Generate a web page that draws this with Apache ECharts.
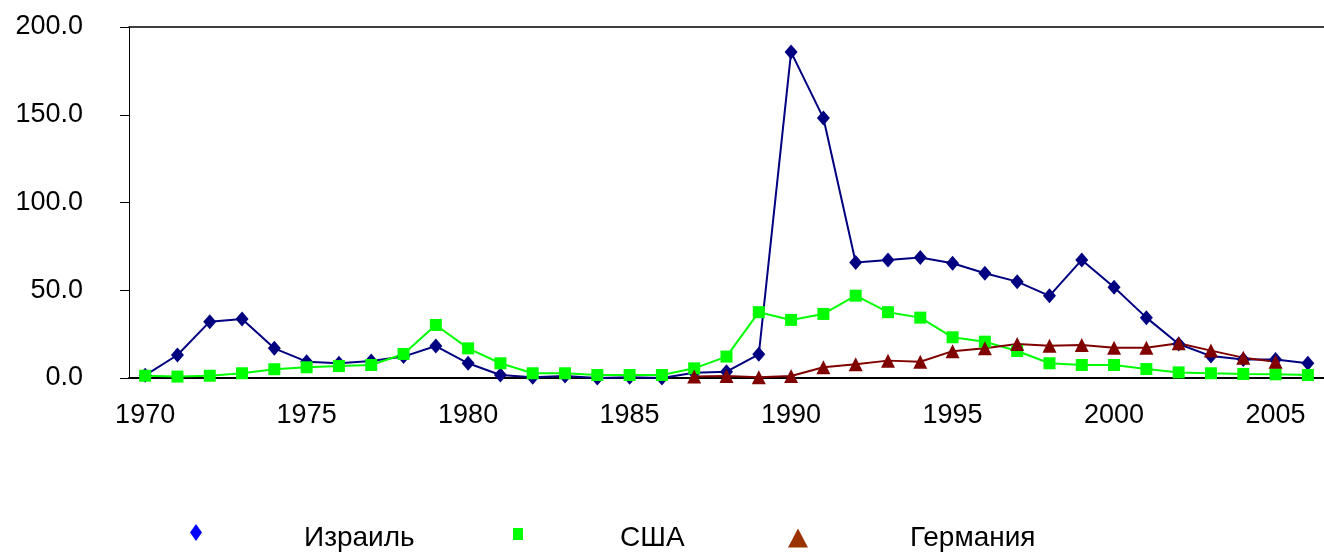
<!DOCTYPE html>
<html>
<head>
<meta charset="utf-8">
<script src="https://cdn.jsdelivr.net/npm/echarts@6/dist/echarts.min.js"></script>
<style>
  html, body { margin: 0; padding: 0; background: #fff; }
  #chart { width: 1324px; height: 554px; }
</style>
</head>
<body>
<div id="chart"></div>
<script>
const years = ['1970', '1971', '1972', '1973', '1974', '1975', '1976', '1977', '1978', '1979',
  '1980', '1981', '1982', '1983', '1984', '1985', '1986', '1987', '1988', '1989',
  '1990', '1991', '1992', '1993', '1994', '1995', '1996', '1997', '1998', '1999',
  '2000', '2001', '2002', '2003', '2004', '2005', '2006']

const israel = [1.5, 13.1, 32.1, 33.6, 16.9, 9.3, 8.4, 9.7, 12.2, 18.2,
  8.4, 1.7, 0.4, 1.1, 0.0, 0.4, 0.0, 3.0, 3.6, 13.5,
  185.7, 148.1, 65.8, 67.3, 68.6, 65.4, 59.7, 54.9, 46.8, 67.3,
  51.7, 34.4, 19.4, 12.5, 10.6, 10.6, 8.4]

const usa = [1.3, 0.8, 1.3, 2.7, 5.0, 6.1, 6.8, 7.4, 13.7, 30.2,
  16.9, 8.4, 2.7, 2.7, 1.7, 1.7, 1.7, 5.5, 12.2, 37.5,
  33.1, 36.5, 46.9, 37.5, 34.4, 23.2, 20.7, 15.4, 8.4, 7.4,
  7.4, 5.1, 3.2, 2.7, 2.3, 2.1, 1.7]

const germany = [null, null, null, null, null, null, null, null, null, null,
  null, null, null, null, null, null, null, 0.8, 1.1, 0.4,
  1.1, 6.1, 7.8, 9.9, 9.3, 15.3, 16.9, 19.4, 18.4, 18.8,
  17.3, 17.3, 19.8, 15.6, 11.6, 9.3, null]

const yTicks = [0, 50, 100, 150, 200]

const font = 'Arial, "Liberation Sans", sans-serif'
const chart = echarts.init(document.getElementById('chart'))

// legend icons: the lone moveTo stretches the box so the mark sits above the text centre
const diamondIcon = 'path://M6,0L12,8.5L6,17L0,8.5Z M6,29'
const squareIcon = 'path://M0,0L10,0L10,12L0,12Z M5,20'

// icons sit far left of their text, so each entry gets its own legend
const legendItem = (name, icon, color, left, w, h, padLeft) => ({
  left: left,
  top: 524,
  padding: 0,
  selectedMode: false,
  itemWidth: w,
  itemHeight: h,
  data: [{ name: name, icon: icon, itemStyle: { color: color, borderWidth: 0 } }],
  textStyle: { fontFamily: font, fontSize: 28, color: '#000', padding: [0, 0, 0, padLeft] },
})

chart.setOption({
  animation: false,
  backgroundColor: '#fff',
  grid: { left: 129, top: 27, right: -9, bottom: 176 },
  legend: [
    legendItem('Израиль', diamondIcon, '#0000ff', 190, 12, 29, 97),
    legendItem('США', squareIcon, '#00ff00', 513, 10, 20, 92),
    legendItem('Германия', 'triangle', '#993300', 788, 20, 19, 97),
  ],
  xAxis: [
    {
      type: 'category',
      data: years,
      boundaryGap: true,
      axisLine: { lineStyle: { color: '#000', width: 2 } },
      axisTick: { interval: 0, length: 9, lineStyle: { color: '#000' } },
      axisLabel: { interval: 4, margin: 24, fontFamily: font, fontSize: 27, color: '#000' },
    },
    {
      type: 'category',
      data: years,
      position: 'top',
      axisLine: { lineStyle: { color: '#000', width: 1.5 } },
      axisTick: { show: false },
      axisLabel: { show: false },
    },
  ],
  yAxis: {
    type: 'value',
    min: yTicks[0],
    max: yTicks[yTicks.length - 1],
    interval: 50,
    axisLine: { show: true, lineStyle: { color: '#000', width: 1 } },
    axisTick: { show: true, length: 9, lineStyle: { color: '#000' } },
    splitLine: { show: false },
    axisLabel: {
      margin: 46,
      fontFamily: font,
      fontSize: 27,
      color: '#000',
      formatter: (v) => v.toFixed(1),
    },
  },
  series: [
    {
      name: 'Израиль',
      type: 'line',
      data: israel,
      symbol: 'diamond',
      symbolSize: [13, 15],
      lineStyle: { color: '#000080', width: 2 },
      itemStyle: { color: '#000080' },
    },
    {
      name: 'США',
      type: 'line',
      data: usa,
      symbol: 'rect',
      symbolSize: 12,
      lineStyle: { color: '#00ff00', width: 2 },
      itemStyle: { color: '#00ff00' },
    },
    {
      name: 'Германия',
      type: 'line',
      data: germany,
      symbol: 'triangle',
      symbolSize: [14, 14],
      lineStyle: { color: '#800000', width: 2 },
      itemStyle: { color: '#800000' },
    },
  ],
})
</script>
</body>
</html>
